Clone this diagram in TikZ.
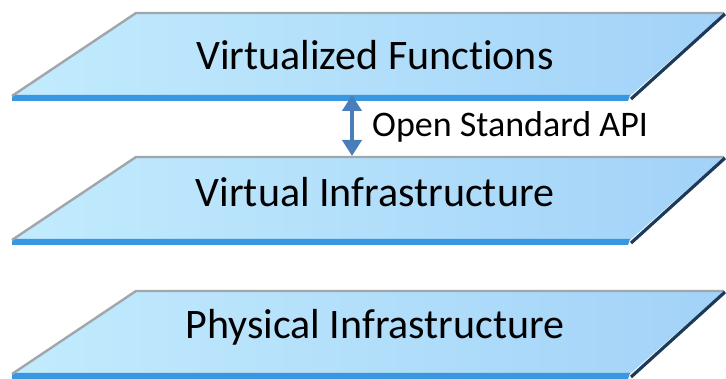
\documentclass[tikz,border=0pt]{standalone}
\usepackage{fontspec}
\setmainfont{Carlito}[Ligatures={NoCommon,NoRare,NoDiscretionary}]
\usetikzlibrary{arrows.meta}
\definecolor{planeL}{HTML}{C2EBFD}
\definecolor{planeR}{HTML}{A2D2F8}
\definecolor{rimgray}{HTML}{A0A6AA}
\definecolor{rimnavy}{HTML}{1C3A5A}
\definecolor{stripblue}{HTML}{3897E0}
\definecolor{arrowblue}{HTML}{4A7EBB}
\tikzset{
  planebody/.style={left color=planeL, right color=planeR, draw=none},
  planerim/.style={draw=rimgray, line width=2.4pt, line join=round},
  planeshadow/.style={draw=rimnavy, line width=3.2pt},
  planestrip/.style={fill=stripblue, draw=none},
  layerlabel/.style={font=\fontsize{42}{46}\selectfont, text=black, inner sep=0pt},
  apilabel/.style={font=\fontsize{36}{40}\selectfont, text=black, inner sep=0pt, anchor=west},
  apiarrow/.style={{Triangle[width=19pt,length=16pt]}-{Triangle[width=19pt,length=16pt]}, draw=arrowblue, line width=4pt}
}
\begin{document}
\begin{tikzpicture}[x=1pt,y=-1pt]
  \useasboundingbox (0,0) rectangle (726,379);
  \fill[white] (0,0) rectangle (726,379);
  % three stacked layer planes, given by the y of their top edge
  \foreach \t in {13,157,291}{
    \path[planebody] (136,\t) -- (724,\t) -- (630,\t+83) -- (12,\t+83) -- cycle;
    \fill[planestrip] (12,\t+82) -- (630,\t+82) -- (628,\t+88) -- (12,\t+88) -- cycle;
    \draw[planerim] (12,\t+83) -- (136,\t) -- (724,\t);
    \draw[planeshadow] (725,\t+1) -- (631,\t+86);
  }
  \coordinate (apiTop) at (352,95);
  \coordinate (apiBottom) at (352,156);
  \node[layerlabel] (vf) at (375,55) {Virtualized Functions};
  \node[layerlabel] (vi) at (375,192) {Virtual Infrastructure};
  \node[layerlabel] (pi) at (375,327) {Physical Infrastructure};
  \draw[apiarrow] (apiTop) -- (apiBottom);
  \node[apilabel] (api) at (372,127) {Open Standard API};
\end{tikzpicture}
\end{document}
